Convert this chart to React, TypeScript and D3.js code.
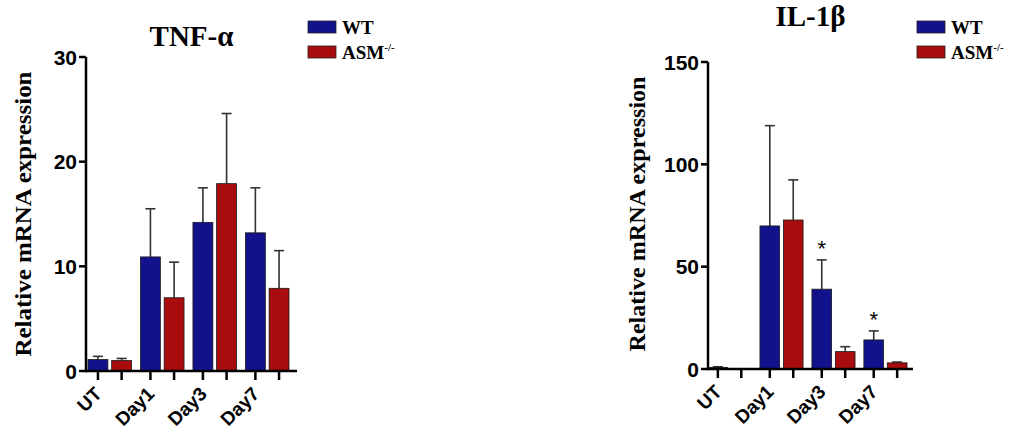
import React from "react";
import * as d3 from "d3";

const categories = ["UT", "Day1", "Day3", "Day7"];
const seriesNames = ["WT", "ASM"];
const seriesColors = ["#12128c", "#a80c0c"];

const tnfWT = [1.1, 10.9, 14.2, 13.2];
const tnfWTErr = [0.3, 4.6, 3.3, 4.3];
const tnfASM = [1.0, 7.0, 17.9, 7.9];
const tnfASMErr = [0.2, 3.4, 6.7, 3.6];
const tnfTicks = [0, 10, 20, 30];

const il1WT = [0.8, 69.9, 39.0, 14.2];
const il1WTErr = [0.3, 49.0, 14.3, 4.4];
const il1ASM = [0.2, 72.8, 8.5, 3.0];
const il1ASMErr = [0, 19.6, 2.4, 0.4];
const il1Sig = ["", "", "*", "*"];
const il1Ticks = [0, 50, 100, 150];

const serif = "'Liberation Serif', 'Times New Roman', serif";
const sans = "'Liberation Sans', Arial, sans-serif";

type PanelProps = {
  title: string;
  titleY: number;
  axisX: number;
  axisEndX: number;
  yRange: [number, number];
  yMax: number;
  ticks: number[];
  xRange: [number, number];
  values: number[][];
  errors: number[][];
  sig?: string[];
  legendX: number;
  yLabelX: number;
  labelLen: number;
};

function Panel(p: PanelProps) {
  const y = d3.scaleLinear().domain([0, p.yMax]).range(p.yRange);
  const x0 = d3.scaleBand().domain(categories).range(p.xRange).paddingInner(0.17);
  const x1 = d3
    .scaleBand()
    .domain(seriesNames)
    .range([0, x0.bandwidth()])
    .paddingInner(0.16);
  const base = y(0);
  const titleX = (p.axisX + p.axisEndX) / 2;

  return (
    <g>
      <text
        x={titleX}
        y={p.titleY}
        textAnchor="middle"
        fontFamily={serif}
        fontWeight="bold"
        fontSize={29}
      >
        {p.title}
      </text>

      {/* legend */}
      {seriesNames.map((s, i) => (
        <g key={s} transform={`translate(${p.legendX},${21 + i * 25})`}>
          <rect width={28} height={12} fill={seriesColors[i]} stroke="#222" strokeWidth={0.8} />
          <text x={34} y={13} fontFamily={serif} fontWeight="bold" fontSize={19}>
            {s}
            {i === 1 && (
              <tspan dy={-8} fontSize={11}>
                -/-
              </tspan>
            )}
          </text>
        </g>
      ))}

      {/* y label */}
      <text
        transform={`translate(${p.yLabelX},214) rotate(-90)`}
        textAnchor="middle"
        fontFamily={serif}
        fontWeight="bold"
        fontSize={23}
        textLength={p.labelLen}
        lengthAdjust="spacingAndGlyphs"
      >
        Relative mRNA expression
      </text>

      {/* bars */}
      {categories.map((c, ci) =>
        seriesNames.map((s, si) => {
          const v = p.values[si][ci];
          const e = p.errors[si][ci];
          const bx = (x0(c) as number) + (x1(s) as number);
          const bw = x1.bandwidth();
          const cx = bx + bw / 2;
          return (
            <g key={c + s}>
              {e > 0 && (
                <g stroke="#333" strokeWidth={1.6}>
                  <line x1={cx} x2={cx} y1={y(v)} y2={y(v + e)} />
                  <line x1={cx - 5} x2={cx + 5} y1={y(v + e)} y2={y(v + e)} />
                </g>
              )}
              <rect
                x={bx}
                y={y(v)}
                width={bw}
                height={base - y(v)}
                fill={seriesColors[si]}
                stroke="#1a1a1a"
                strokeWidth={0.8}
              />
              {si === 0 && p.sig && p.sig[ci] && (
                <text
                  x={cx}
                  y={y(v + e) - 4}
                  textAnchor="middle"
                  fontFamily={sans}
                  fontSize={22}
                >
                  {p.sig[ci]}
                </text>
              )}
            </g>
          );
        })
      )}

      {/* axes */}
      <g stroke="#000" strokeWidth={2.5} fill="none">
        <line x1={p.axisX} x2={p.axisX} y1={base + 1.2} y2={y(p.yMax)} />
        <line x1={p.axisX} x2={p.axisEndX} y1={base} y2={base} />
        {p.ticks.map((t) => (
          <line key={t} x1={p.axisX - 7} x2={p.axisX} y1={y(t)} y2={y(t)} />
        ))}
        {categories.map((c) =>
          seriesNames.map((s) => {
            const cx = (x0(c) as number) + (x1(s) as number) + x1.bandwidth() / 2;
            return <line key={c + s} x1={cx} x2={cx} y1={base} y2={base + 9} />;
          })
        )}
      </g>
      {p.ticks.map((t) => (
        <text
          key={t}
          x={p.axisX - 9}
          y={y(t)}
          dy="0.36em"
          textAnchor="end"
          fontFamily={sans}
          fontWeight="bold"
          fontSize={21}
        >
          {t}
        </text>
      ))}
      {categories.map((c) => {
        const cx = (x0(c) as number) + (x1("WT") as number) + x1.bandwidth() / 2;
        return (
          <text
            key={c}
            transform={`translate(${cx + 5},${base + 24}) rotate(-45)`}
            textAnchor="end"
            fontFamily={sans}
            fontWeight="bold"
            fontSize={19}
          >
            {c}
          </text>
        );
      })}
    </g>
  );
}

export default function App() {
  return (
    <svg
      width={1014}
      height={440}
      style={{ position: "absolute", left: 0, top: 0, display: "block", background: "#fff" }}
    >
      <Panel
        title="TNF-α"
        titleY={46}
        axisX={86}
        axisEndX={297}
        yRange={[371, 57]}
        yMax={30}
        ticks={tnfTicks}
        xRange={[88, 289]}
        values={[tnfWT, tnfASM]}
        errors={[tnfWTErr, tnfASMErr]}
        legendX={308}
        yLabelX={31}
        labelLen={285}
      />
      <Panel
        title="IL-1β"
        titleY={26}
        axisX={708}
        axisEndX={913}
        yRange={[369, 62]}
        yMax={150}
        ticks={il1Ticks}
        xRange={[708, 907]}
        values={[il1WT, il1ASM]}
        errors={[il1WTErr, il1ASMErr]}
        sig={il1Sig}
        legendX={917}
        yLabelX={645}
        labelLen={275}
      />
    </svg>
  );
}
